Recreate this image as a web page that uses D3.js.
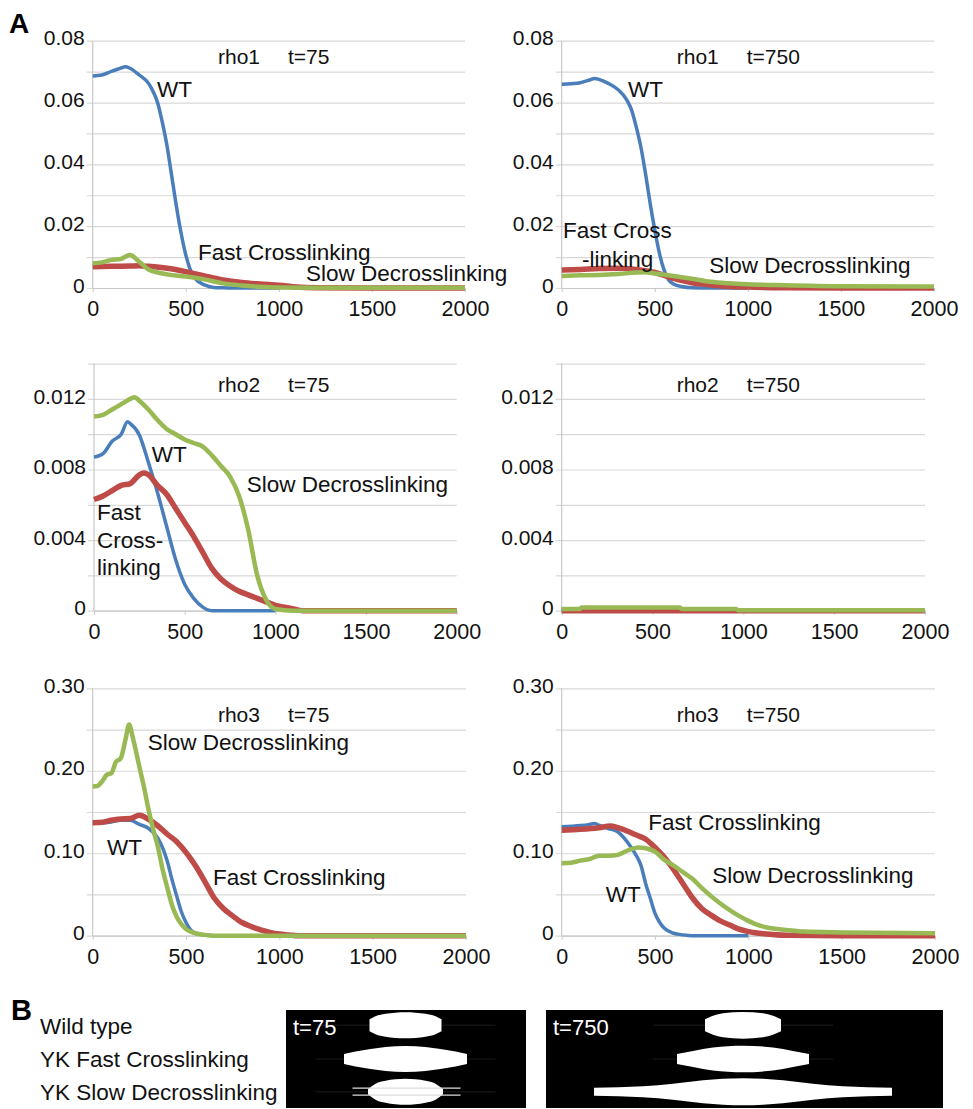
<!DOCTYPE html>
<html>
<head>
<meta charset="utf-8">
<script src="https://cdn.jsdelivr.net/npm/d3@7"></script>
<style>
  body { margin: 0; background: #fff; }
  svg { display: block; font-family: 'Liberation Sans', Arial, sans-serif; }
</style>
</head>
<body>
<div id="chart"></div>
<script>
/* global d3 */

// ---- data (x = position, y = concentration) ----
const xTicks = [0, 500, 1000, 1500, 2000];

const rho1t75WT = [[0, 0.0686], [50, 0.0689], [100, 0.0701], [150, 0.0711], [175, 0.0716], [200, 0.0711], [250, 0.0689], [300, 0.0662], [325, 0.0635], [350, 0.0597], [375, 0.0533], [400, 0.0457], [425, 0.036], [450, 0.0263], [475, 0.0177], [500, 0.0107], [525, 0.0058], [550, 0.0031], [600, 0.001], [650, 0.0002], [700, 0.0001], [800, 0], [1000, 0]];
const rho1t75Fast = [[0, 0.0069], [100, 0.007], [200, 0.0071], [250, 0.0072], [300, 0.007], [400, 0.0064], [500, 0.0053], [600, 0.0039], [700, 0.0026], [800, 0.0018], [900, 0.0013], [1000, 0.0009], [1100, 0.0003], [1200, 0.0001], [1500, 0], [2000, 0]];
const rho1t75Slow = [[0, 0.008], [50, 0.0083], [100, 0.0091], [150, 0.0094], [200, 0.0107], [250, 0.0085], [300, 0.006], [350, 0.005], [400, 0.0044], [500, 0.0037], [600, 0.0028], [700, 0.0015], [800, 0.0008], [900, 0.0004], [1000, 0.0002], [1200, 0.0001], [2000, 0.0001]];

const rho1t750WT = [[0, 0.0659], [50, 0.0661], [100, 0.0664], [150, 0.0673], [175, 0.0678], [200, 0.0675], [250, 0.0662], [300, 0.0643], [350, 0.0608], [375, 0.0576], [400, 0.0522], [425, 0.0457], [450, 0.0371], [475, 0.0274], [500, 0.0188], [525, 0.0112], [550, 0.0058], [575, 0.0026], [600, 0.0013], [650, 0.0004], [700, 0.0001], [800, 0], [1000, 0]];
const rho1t750Fast = [[0, 0.0058], [100, 0.006], [200, 0.0063], [300, 0.0064], [400, 0.006], [500, 0.005], [600, 0.0031], [700, 0.0017], [800, 0.001], [900, 0.0005], [1000, 0.0003], [1200, 0.0001], [1500, 0], [2000, 0]];
const rho1t750Slow = [[0, 0.0039], [100, 0.0041], [200, 0.0042], [300, 0.0045], [400, 0.005], [450, 0.0051], [500, 0.0047], [600, 0.0039], [700, 0.003], [800, 0.002], [900, 0.0015], [1000, 0.0012], [1200, 0.0009], [1500, 0.0006], [2000, 0.0005]];

const rho2t75WT = [[0, 0.0087], [50, 0.0089], [100, 0.0096], [150, 0.01], [185, 0.0107], [200, 0.0106], [250, 0.00996], [300, 0.0084], [350, 0.0067], [400, 0.0048], [450, 0.0029], [500, 0.0015], [550, 0.0007], [600, 0.0002], [650, 0], [1000, 0]];
const rho2t75Fast = [[0, 0.0063], [50, 0.0065], [100, 0.0068], [150, 0.0071], [200, 0.0072], [250, 0.0077], [275, 0.0078], [300, 0.0077], [350, 0.0071], [400, 0.0066], [450, 0.0058], [500, 0.005], [550, 0.0042], [600, 0.0033], [650, 0.0024], [700, 0.0018], [750, 0.0014], [800, 0.0011], [850, 0.0009], [900, 0.0007], [950, 0.0005], [1000, 0.0003], [1050, 0.0002], [1100, 0.0001], [1150, 0], [2000, 0]];
const rho2t75Slow = [[0, 0.011], [50, 0.0111], [100, 0.0114], [150, 0.0117], [200, 0.012], [225, 0.0121], [250, 0.0119], [300, 0.0114], [350, 0.0108], [400, 0.0103], [450, 0.01], [500, 0.0097], [550, 0.0095], [600, 0.0093], [650, 0.0088], [700, 0.0082], [750, 0.0076], [800, 0.0065], [850, 0.0046], [900, 0.002], [950, 0.0006], [1000, 0.0001], [1100, 0], [2000, 0]];

const rho2t750WT = [[0, 0], [1000, 0]];
const rho2t750Fast = [[0, 0], [2000, 0]];
const rho2t750Slow = [[0, 0.0001], [100, 0.0001], [110, 0.00018], [650, 0.00018], [660, 0.0001], [960, 0.0001], [970, 0.00002], [2000, 0.00002]];

const rho3t75WT = [[0, 0.137], [50, 0.137], [100, 0.138], [150, 0.14], [200, 0.14], [250, 0.135], [300, 0.13], [350, 0.118], [400, 0.09], [425, 0.068], [450, 0.048], [475, 0.029], [500, 0.016], [525, 0.007], [550, 0.003], [600, 0.001], [650, 0], [1000, 0]];
const rho3t75Fast = [[0, 0.137], [50, 0.1375], [100, 0.14], [150, 0.1415], [200, 0.142], [250, 0.146], [300, 0.141], [350, 0.133], [400, 0.123], [450, 0.114], [500, 0.101], [550, 0.085], [600, 0.066], [650, 0.046], [700, 0.033], [750, 0.024], [800, 0.016], [850, 0.011], [900, 0.007], [950, 0.004], [1000, 0.002], [1050, 0.001], [1100, 0], [2000, 0]];
const rho3t75Slow = [[0, 0.181], [25, 0.1815], [50, 0.187], [75, 0.195], [100, 0.197], [125, 0.211], [150, 0.215], [175, 0.237], [195, 0.256], [215, 0.24], [250, 0.205], [275, 0.18], [300, 0.152], [325, 0.128], [350, 0.107], [375, 0.08], [400, 0.058], [425, 0.037], [450, 0.023], [475, 0.014], [500, 0.008], [550, 0.003], [600, 0.001], [650, 0], [2000, 0]];

const rho3t750WT = [[0, 0.132], [100, 0.1335], [150, 0.135], [175, 0.136], [200, 0.134], [250, 0.13], [300, 0.126], [350, 0.114], [400, 0.097], [425, 0.085], [450, 0.063], [475, 0.045], [500, 0.027], [525, 0.016], [550, 0.009], [600, 0.003], [650, 0.001], [700, 0], [1000, 0]];
const rho3t750Fast = [[0, 0.128], [100, 0.129], [200, 0.131], [260, 0.133], [300, 0.131], [350, 0.127], [400, 0.122], [450, 0.117], [500, 0.107], [550, 0.095], [600, 0.08], [650, 0.063], [700, 0.046], [750, 0.033], [800, 0.025], [850, 0.018], [900, 0.013], [950, 0.008], [1000, 0.005], [1100, 0.002], [1200, 0.0005], [1500, 0], [2000, 0]];
const rho3t750Slow = [[0, 0.088], [50, 0.0885], [100, 0.091], [150, 0.093], [200, 0.097], [250, 0.097], [300, 0.098], [350, 0.103], [410, 0.107], [450, 0.106], [500, 0.102], [550, 0.092], [600, 0.085], [650, 0.077], [700, 0.069], [750, 0.058], [800, 0.048], [850, 0.039], [900, 0.031], [950, 0.024], [1000, 0.018], [1050, 0.013], [1100, 0.01], [1200, 0.007], [1300, 0.005], [1500, 0.004], [2000, 0.003]];

// y grid / label ticks for each row
const rho1Grid = [0, 0.01, 0.02, 0.03, 0.04, 0.05, 0.06, 0.07, 0.08];
const rho1Labels = [0, 0.02, 0.04, 0.06, 0.08];
const rho2Grid = [0, 0.002, 0.004, 0.006, 0.008, 0.01, 0.012, 0.014];
const rho2Labels = [0, 0.004, 0.008, 0.012];
const rho3Grid = [0, 0.05, 0.1, 0.15, 0.2, 0.25, 0.3];
const rho3Labels = [0, 0.1, 0.2, 0.3];

// panel B rows
const bRows = ['Wild type', 'YK Fast Crosslinking', 'YK Slow Decrosslinking'];
const bTimes = ['t=75', 't=750'];

const width = 973;
const height = 1109;
const blue = '#4a7ebb';
const red = '#be4b48';
const green = '#98b954';
const fontFam = "'Liberation Sans', Arial, sans-serif";

const svg = d3.select('#chart')
  .append('svg')
  .attr('width', width)
  .attr('height', height);

const panels = [
  {
    x0: 92.7, x1: 465, y0: 288, y1: 40.7, max: 0.08, grid: rho1Grid, labels: rho1Labels, dec: 2,
    series: [rho1t75WT, rho1t75Fast, rho1t75Slow],
    title: ['rho1', 't=75', 673, 0.0725],
    notes: [['WT', 345, 0.0618], ['Fast Crosslinking', 566, 0.0091], ['Slow Decrosslinking', 1146, 0.0023]],
  },
  {
    x0: 561.7, x1: 934, y0: 288, y1: 40.7, max: 0.08, grid: rho1Grid, labels: rho1Labels, dec: 2,
    series: [rho1t750WT, rho1t750Fast, rho1t750Slow],
    title: ['rho1', 't=750', 618, 0.0725],
    notes: [['WT', 356, 0.0618], ['Fast Cross', 7, 0.0162], ['-linking', 109, 0.0068], ['Slow Decrosslinking', 792, 0.0049]],
  },
  {
    x0: 94, x1: 456.7, y0: 610.7, y1: 363.6, max: 0.014, grid: rho2Grid, labels: rho2Labels, dec: 3,
    series: [rho2t75WT, rho2t75Fast, rho2t75Slow],
    title: ['rho2', 't=75', 684, 0.0124],
    notes: [['WT', 318, 0.00845], ['Slow Decrosslinking', 842, 0.00674], ['Fast', 17, 0.00514], ['Cross-', 17, 0.00357], ['linking', 17, 0.00202]],
  },
  {
    x0: 561.7, x1: 925, y0: 610.7, y1: 363.6, max: 0.014, grid: rho2Grid, labels: rho2Labels, dec: 3,
    series: [rho2t750WT, rho2t750Fast, rho2t750Slow],
    title: ['rho2', 't=750', 633, 0.0124],
    notes: [],
  },
  {
    x0: 92.7, x1: 466, y0: 935.7, y1: 688.3, max: 0.3, grid: rho3Grid, labels: rho3Labels, dec: 2,
    series: [rho3t75WT, rho3t75Fast, rho3t75Slow],
    title: ['rho3', 't=75', 671, 0.2596],
    notes: [['Slow Decrosslinking', 295, 0.2253], ['WT', 77, 0.0979], ['Fast Crosslinking', 645, 0.0615]],
  },
  {
    x0: 561.7, x1: 935, y0: 935.7, y1: 688.3, max: 0.3, grid: rho3Grid, labels: rho3Labels, dec: 2,
    series: [rho3t750WT, rho3t750Fast, rho3t750Slow],
    title: ['rho3', 't=750', 616, 0.2596],
    notes: [['Fast Crosslinking', 464, 0.1282], ['Slow Decrosslinking', 807, 0.0636], ['WT', 236, 0.0412]],
  },
];

const colors = [blue, red, green];
const strokeW = [3.5, 5.5, 4.5];

panels.forEach((p) => {
  const xScale = d3.scaleLinear().domain([0, 2000]).range([p.x0, p.x1]);
  const yScale = d3.scaleLinear().domain([0, p.max]).range([p.y0, p.y1]);
  const g = svg.append('g');

  // gridlines (with outside tick marks)
  const yGrid = d3.axisLeft(yScale)
    .tickValues(p.grid)
    .tickSize(-(p.x1 - p.x0))
    .tickSizeOuter(0)
    .tickFormat('');
  g.append('g')
    .attr('transform', `translate(${p.x0} 0)`)
    .call(yGrid)
    .call((a) => a.select('.domain').remove())
    .call((a) => a.selectAll('line')
      .attr('x1', -6)
      .attr('stroke', '#d9d9d9')
      .attr('stroke-width', 1.2));

  // y labels
  const yLab = d3.axisLeft(yScale)
    .tickValues(p.labels)
    .tickSize(0)
    .tickPadding(8)
    .tickFormat((d) => (d === 0 ? '0' : d.toFixed(p.dec)));
  g.append('g')
    .attr('transform', `translate(${p.x0} 0)`)
    .call(yLab)
    .call((a) => a.select('.domain').remove())
    .call((a) => a.selectAll('text')
      .attr('dy', '0.2em')
      .attr('fill', '#111')
      .style('font-size', '21px')
      .style('font-family', fontFam));

  // y axis line
  g.append('line')
    .attr('x1', p.x0).attr('x2', p.x0)
    .attr('y1', yScale(p.grid[p.grid.length - 1]))
    .attr('y2', p.y0)
    .attr('stroke', '#c8c8c8')
    .attr('stroke-width', 1.2);

  // x axis
  const xAxis = d3.axisBottom(xScale)
    .tickValues(xTicks)
    .tickSize(4)
    .tickSizeOuter(0)
    .tickPadding(9)
    .tickFormat(d3.format('d'));
  g.append('g')
    .attr('transform', `translate(0 ${p.y0})`)
    .call(xAxis)
    .call((a) => a.select('.domain').attr('stroke', '#c8c8c8').attr('stroke-width', 1.2))
    .call((a) => a.selectAll('line').attr('stroke', '#c8c8c8'))
    .call((a) => a.selectAll('text')
      .attr('fill', '#111')
      .style('font-size', '21.5px')
      .style('font-family', fontFam));

  // series
  const line = d3.line()
    .x((d) => xScale(d[0]))
    .y((d) => yScale(d[1]))
    .curve(d3.curveMonotoneX);
  p.series.forEach((s, i) => {
    g.append('path')
      .datum(s)
      .attr('d', line)
      .attr('fill', 'none')
      .attr('stroke', colors[i])
      .attr('stroke-width', strokeW[i])
      .attr('stroke-linejoin', 'round');
  });

  // title
  const title = g.append('text')
    .attr('x', xScale(p.title[2]))
    .attr('y', yScale(p.title[3]))
    .style('font-size', '21px')
    .attr('fill', '#111');
  title.append('tspan').text(p.title[0]);
  title.append('tspan')
    .attr('x', xScale(p.title[2]) + 70)
    .text(p.title[1]);

  // annotations
  p.notes.forEach((n) => {
    g.append('text')
      .attr('x', xScale(n[1]))
      .attr('y', yScale(n[2]))
      .style('font-size', '22.5px')
      .attr('fill', '#111')
      .text(n[0]);
  });
});

// panel letters
svg.append('text')
  .attr('x', 9)
  .attr('y', 33)
  .style('font-size', '28px')
  .style('font-weight', 'bold')
  .text('A');
svg.append('text')
  .attr('x', 11)
  .attr('y', 1020)
  .style('font-size', '29px')
  .style('font-weight', 'bold')
  .text('B');

// ---- panel B: cell outlines ----
const rowY = d3.scaleBand().domain(bRows).range([1010, 1108]);

bRows.forEach((r) => {
  svg.append('text')
    .attr('x', 40)
    .attr('y', rowY(r) + rowY.bandwidth() / 2 + 8)
    .style('font-size', '22.5px')
    .attr('fill', '#111')
    .text(r);
});

const boxes = [
  { x: 286, w: 240, cx: 405.5, label: bTimes[0] },
  { x: 546, w: 397, cx: 743, label: bTimes[1] },
];

// shape profiles: [offset from centre, half height]
const shapes = [
  [
    [[-36, 6], [-30, 9], [-20, 11.5], [-10, 12.7], [0, 13], [10, 12.7], [20, 11.5], [30, 9], [36, 6]],
    [[-61.5, 5], [-50, 7.5], [-35, 10], [-20, 12], [0, 13], [20, 12], [35, 10], [50, 7.5], [61.5, 5]],
    [[-37.5, 2.5], [-30, 8], [-20, 11], [-10, 12.5], [0, 13], [10, 12.5], [20, 11], [30, 8], [37.5, 2.5]],
  ],
  [
    [[-38, 6], [-30, 9.5], [-20, 12], [0, 13.3], [20, 12], [30, 9.5], [38, 6]],
    [[-66, 5], [-50, 8], [-30, 11.5], [0, 13.3], [30, 11.5], [50, 8], [66, 5]],
    [[-149, 4], [-100, 5.5], [-70, 8], [-40, 11.5], [-20, 13], [0, 13.5], [20, 13], [40, 11.5], [70, 8], [100, 5.5], [149, 4]],
  ],
];

boxes.forEach((b, bi) => {
  svg.append('rect')
    .attr('x', b.x)
    .attr('y', 1010)
    .attr('width', b.w)
    .attr('height', 98)
    .attr('fill', '#000');

  bRows.forEach((r, ri) => {
    const cy = rowY(r) + rowY.bandwidth() / 2 + (ri === 0 ? -1 : 0);
    // faint tube line
    svg.append('line')
      .attr('x1', b.cx - 90)
      .attr('x2', b.cx + 90)
      .attr('y1', cy)
      .attr('y2', cy)
      .attr('stroke', '#121212')
      .attr('stroke-width', 1.5);

    const area = d3.area()
      .x((d) => b.cx + d[0])
      .y0((d) => cy - d[1])
      .y1((d) => cy + d[1])
      .curve(d3.curveMonotoneX);
    svg.append('path')
      .datum(shapes[bi][ri])
      .attr('d', area)
      .attr('fill', '#fff');

    if (bi === 0 && ri === 2) {
      [-3.5, 3.5].forEach((off) => {
        svg.append('line')
          .attr('x1', b.cx - 53)
          .attr('x2', b.cx + 55)
          .attr('y1', cy + off)
          .attr('y2', cy + off)
          .attr('stroke', '#ddd')
          .attr('stroke-width', 1.3);
      });
    }
  });

  svg.append('text')
    .attr('x', b.x + 7)
    .attr('y', 1035)
    .style('font-size', '22px')
    .attr('fill', '#fff')
    .text(b.label);
});
</script>
</body>
</html>
